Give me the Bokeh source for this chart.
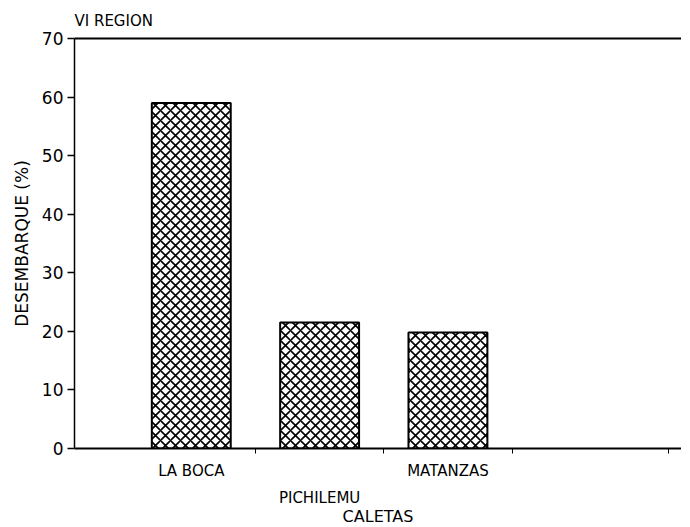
from bokeh.plotting import figure
from bokeh.models import Range1d, FixedTicker, LinearAxis
from bokeh.embed import file_html
from bokeh.resources import INLINE

caletas = ["LA BOCA", "PICHILEMU", "MATANZAS"]
desembarque = [59.0, 21.5, 19.8]
y_ticks = [0, 10, 20, 30, 40, 50, 60, 70]
title_text = "VI REGION"
x_title = "CALETAS"
y_title = "DESEMBARQUE (%)"

positions = list(range(1, len(caletas) + 1))
FONT = "DejaVu Sans"
INK = "black"

p = figure(width=681, height=528, output_backend="svg", toolbar_location=None,
           x_range=Range1d(0.09, 4.82), y_range=Range1d(0, 70),
           x_axis_type=None, y_axis_type=None,
           min_border_left=74, min_border_right=0, min_border_top=0, min_border_bottom=0)
p.outline_line_color = None
p.grid.visible = False
p.background_fill_color = "white"
p.border_fill_color = "white"

p.title.text = title_text
p.title.text_font = FONT
p.title.text_font_size = "15px"
p.title.text_font_style = "normal"
p.title.text_color = INK
p.title.offset = 0
p.title.standoff = 18

p.vbar(x=positions, top=desembarque, width=0.615, bottom=0,
       fill_color="white", line_color=INK, line_width=2,
       hatch_pattern="diagonal_cross", hatch_color=INK,
       hatch_scale=10, hatch_weight=1.6)

# y axis
yax = LinearAxis(ticker=FixedTicker(ticks=y_ticks))
yax.axis_label = y_title
yax.axis_label_text_font = FONT
yax.axis_label_text_font_size = "17px"
yax.axis_label_text_font_style = "normal"
yax.axis_label_text_color = INK
yax.axis_label_standoff = 7
yax.major_label_text_font = FONT
yax.major_label_text_font_size = "17px"
yax.major_label_text_color = INK
yax.major_label_standoff = 4
yax.major_tick_out = 7
yax.major_tick_in = 0
yax.minor_tick_line_color = None
yax.axis_line_width = 1.5
yax.axis_line_color = INK
yax.major_tick_line_color = INK
yax.major_tick_line_width = 1.5
p.add_layout(yax, "left")

# top border line
top = LinearAxis(ticker=FixedTicker(ticks=[]))
top.major_label_text_font_size = "0px"
top.axis_line_width = 2
top.axis_line_color = INK
top.minor_tick_line_color = None
top.major_tick_line_color = None
p.add_layout(top, "above")

# main x axis line with boundary ticks
xax = LinearAxis(ticker=FixedTicker(ticks=[1.5, 2.5, 3.5, 4.72]))
xax.major_label_overrides = {1.5: "", 2.5: "", 3.5: "", 4.72: ""}
xax.major_label_text_font_size = "0px"
xax.major_label_standoff = 0
xax.major_tick_out = 5
xax.major_tick_in = 0
xax.minor_tick_line_color = None
xax.axis_line_width = 2
xax.axis_line_color = INK
xax.major_tick_line_color = INK
p.add_layout(xax, "below")

# staggered category labels (first row)
row1 = [positions[0], positions[2]]
xl1 = LinearAxis(ticker=FixedTicker(ticks=row1))
xl1.major_label_overrides = {positions[0]: caletas[0], positions[2]: caletas[2]}
xl1.axis_line_color = None
xl1.major_tick_line_color = None
xl1.minor_tick_line_color = None
xl1.major_label_text_font = FONT
xl1.major_label_text_font_size = "15px"
xl1.major_label_text_color = INK
xl1.major_label_standoff = 2
p.add_layout(xl1, "below")

# second row
xl2 = LinearAxis(ticker=FixedTicker(ticks=[positions[1]]))
xl2.major_label_overrides = {positions[1]: caletas[1]}
xl2.axis_line_color = None
xl2.major_tick_line_color = None
xl2.minor_tick_line_color = None
xl2.major_label_text_font = FONT
xl2.major_label_text_font_size = "15px"
xl2.major_label_text_color = INK
xl2.major_label_standoff = 0
xl2.axis_label = x_title
xl2.axis_label_text_font = FONT
xl2.axis_label_text_font_size = "16px"
xl2.axis_label_text_font_style = "normal"
xl2.axis_label_text_color = INK
xl2.axis_label_standoff = -3
p.add_layout(xl2, "below")

open("out.html", "w").write(file_html(p, INLINE))
